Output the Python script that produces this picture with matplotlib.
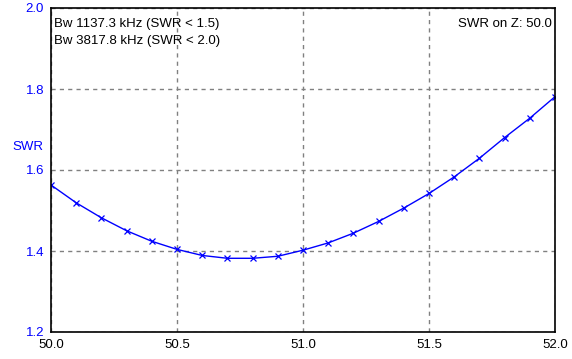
import numpy as np
import matplotlib.pyplot as plt

plt.rcParams['font.family'] = ['Liberation Sans', 'DejaVu Sans']

freq = [50.0, 50.1, 50.2, 50.3, 50.4, 50.5, 50.6, 50.7, 50.8, 50.9, 51.0,
        51.1, 51.2, 51.3, 51.4, 51.5, 51.6, 51.7, 51.8, 51.9, 52.0]
swr = [1.563, 1.519, 1.482, 1.450, 1.424, 1.404, 1.389, 1.382, 1.382, 1.387, 1.402,
       1.420, 1.444, 1.473, 1.506, 1.542, 1.583, 1.629, 1.680, 1.728, 1.781]
xticks = [50.0, 50.5, 51.0, 51.5, 52.0]
yticks = [1.2, 1.4, 1.6, 1.8, 2.0]

fig = plt.figure(figsize=(5.72, 3.59), dpi=100)
ax = fig.add_axes([51/572, 1-332/359, 504/572, 324/359])

ax.plot(freq, swr, color='blue', lw=1, marker='x', ms=5, mew=0.9)

ax.set_xlim(50.0, 52.0)
ax.set_ylim(1.2, 2.0)
ax.set_xticks(xticks)
ax.set_yticks(yticks)
ax.set_xticklabels(['%.1f' % v for v in xticks])
ax.set_yticklabels(['%.1f' % v for v in yticks], color='blue')
ax.tick_params(length=0, labelsize=9.5, pad=5)
ax.grid(True, ls=(0, (3, 3)), color='gray', lw=1)

for s in ax.spines.values():
    s.set_linewidth(1.2)
    s.set_color('black')

fig.text(12/572, 1-147/359, 'SWR', color='blue', fontsize=9.5, va='center', ha='left')

ax.text(0.006, 0.95, 'Bw 1137.3 kHz (SWR < 1.5)', transform=ax.transAxes,
        fontsize=9.5, va='center', ha='left')
ax.text(0.006, 0.897, 'Bw 3817.8 kHz (SWR < 2.0)', transform=ax.transAxes,
        fontsize=9.5, va='center', ha='left')
ax.text(0.994, 0.95, 'SWR on Z: 50.0', transform=ax.transAxes,
        fontsize=9.5, va='center', ha='right')

fig.savefig('out.png', dpi=100)
